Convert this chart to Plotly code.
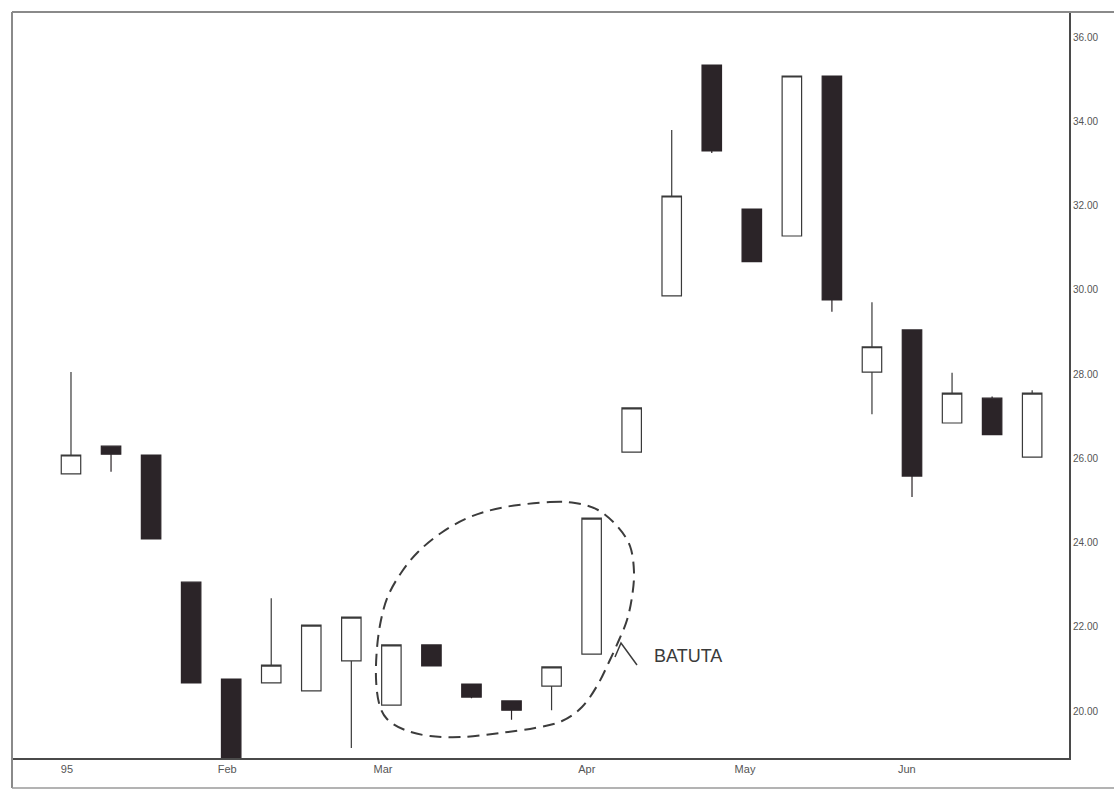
import plotly.graph_objects as go

# Weekly bars, 1995 (week index 0 = first week of January)
weeks = list(range(25))
opens = [25.63, 26.29, 26.08, 23.06, 20.76, 20.67, 20.48, 21.19, 20.14, 21.57, 20.64, 20.24, 20.59,
         21.35, 26.15, 29.86, 35.34, 31.92, 31.28, 35.08, 28.05, 29.05, 26.84, 27.43, 26.03]
highs = [28.05, 26.29, 26.08, 23.06, 20.76, 22.68, 22.04, 22.23, 21.57, 21.57, 20.64, 20.24, 21.05,
         24.58, 27.20, 33.80, 35.34, 31.92, 35.08, 35.08, 29.71, 29.05, 28.03, 27.47, 27.62]
lows = [25.63, 25.68, 24.09, 20.67, 18.70, 20.67, 20.48, 19.12, 20.14, 21.07, 20.30, 19.79, 20.02,
        21.35, 26.15, 29.86, 33.25, 30.67, 31.28, 29.48, 27.05, 25.08, 26.84, 26.56, 26.03]
closes = [26.08, 26.10, 24.09, 20.67, 18.70, 21.09, 22.04, 22.23, 21.57, 21.07, 20.33, 20.02, 21.05,
          24.58, 27.20, 32.23, 33.30, 30.67, 35.08, 29.76, 28.65, 25.58, 27.55, 26.56, 27.55]

month_pos = [-0.1, 3.9, 7.79, 12.88, 16.83, 20.87]
month_labels = ["95", "Feb", "Mar", "Apr", "May", "Jun"]
price_ticks = [20, 22, 24, 26, 28, 30, 32, 34, 36]

W, H = 1114, 792
ML, MR, MT, MB = 12, 45, 12, 34
PW, PH = W - ML - MR, H - MT - MB


def px(xp):
    return (xp - ML) / PW


def py(yp):
    return (H - MB - yp) / PH


fig = go.Figure()
fig.add_trace(go.Candlestick(
    x=weeks, open=opens, high=highs, low=lows, close=closes,
    increasing=dict(fillcolor="#ffffff", line=dict(color="#3a3a3a", width=1.2)),
    decreasing=dict(fillcolor="#2b2428", line=dict(color="#2b2428", width=1.2)),
    whiskerwidth=0, hoverinfo="skip", showlegend=False,
))

# Dashed loop drawn as a closed Catmull-Rom curve through guide points
loop_pts = [(550, 502), (575, 503), (598, 510), (617, 526), (630, 546), (634, 572), (632, 597),
            (627, 620), (619, 640), (609, 662), (597, 686), (582, 707), (562, 721), (535, 728),
            (500, 733), (463, 737), (430, 736), (405, 730), (387, 719), (379, 703), (376, 678),
            (377, 648), (381, 620), (388, 596), (401, 573), (418, 552), (441, 533), (470, 517),
            (505, 507)]
pts = [(px(a), py(b)) for a, b in loop_pts]
n = len(pts)
path = f"M {pts[0][0]:.5f},{pts[0][1]:.5f}"
for i in range(n):
    p0, p1, p2, p3 = pts[i - 1], pts[i], pts[(i + 1) % n], pts[(i + 2) % n]
    c1 = (p1[0] + (p2[0] - p0[0]) / 6, p1[1] + (p2[1] - p0[1]) / 6)
    c2 = (p2[0] - (p3[0] - p1[0]) / 6, p2[1] - (p3[1] - p1[1]) / 6)
    path += f" C {c1[0]:.5f},{c1[1]:.5f} {c2[0]:.5f},{c2[1]:.5f} {p2[0]:.5f},{p2[1]:.5f}"
path += " Z"

shapes = [
    dict(type="path", xref="paper", yref="paper", path=path,
         line=dict(color="#3c3c3c", width=2, dash="12px,7px")),
    # pointer mark next to the label
    dict(type="path", xref="paper", yref="paper",
         path=f"M {px(615)},{py(657)} L {px(621)},{py(643)} L {px(637)},{py(665)}",
         line=dict(color="#3c3c3c", width=1.5)),
    # outer frame
    dict(type="line", xref="paper", yref="paper", x0=px(12), x1=px(1114), y0=py(12), y1=py(12),
         line=dict(color="#8a8a8a", width=2)),
    dict(type="line", xref="paper", yref="paper", x0=px(12), x1=px(12), y0=py(12), y1=py(788),
         line=dict(color="#8a8a8a", width=2)),
    dict(type="line", xref="paper", yref="paper", x0=px(12), x1=px(1114), y0=py(788), y1=py(788),
         line=dict(color="#9a9a9a", width=1.5)),
]

fig.update_layout(
    width=W, height=H,
    margin=dict(l=ML, r=MR, t=MT, b=MB),
    paper_bgcolor="#ffffff", plot_bgcolor="#ffffff",
    boxgap=0.1, boxgroupgap=0.46,
    shapes=shapes,
    annotations=[dict(xref="paper", yref="paper", x=px(652), y=py(656), xanchor="left", yanchor="middle",
                      text="BATUTA", showarrow=False,
                      font=dict(family="Liberation Sans, Arial, sans-serif", size=18, color="#3a3a3a"))],
    xaxis=dict(range=[-1.473, 24.92], rangeslider=dict(visible=False), showgrid=False, zeroline=False,
               tickmode="array", tickvals=month_pos, ticktext=month_labels, ticks="",
               showline=True, linecolor="#4a4a4a", linewidth=2,
               tickfont=dict(family="Liberation Sans Narrow, Liberation Sans, Arial", size=11, color="#555555")),
    yaxis=dict(range=[18.884, 36.60], side="right", showgrid=False, zeroline=False,
               tickmode="array", tickvals=price_ticks, ticktext=[f"{v:.2f}" for v in price_ticks],
               ticks="", showline=True, linecolor="#4a4a4a", linewidth=2,
               tickfont=dict(family="Liberation Sans Narrow, Liberation Sans, Arial", size=10, color="#555555")),
)

fig.write_html("out.html")
